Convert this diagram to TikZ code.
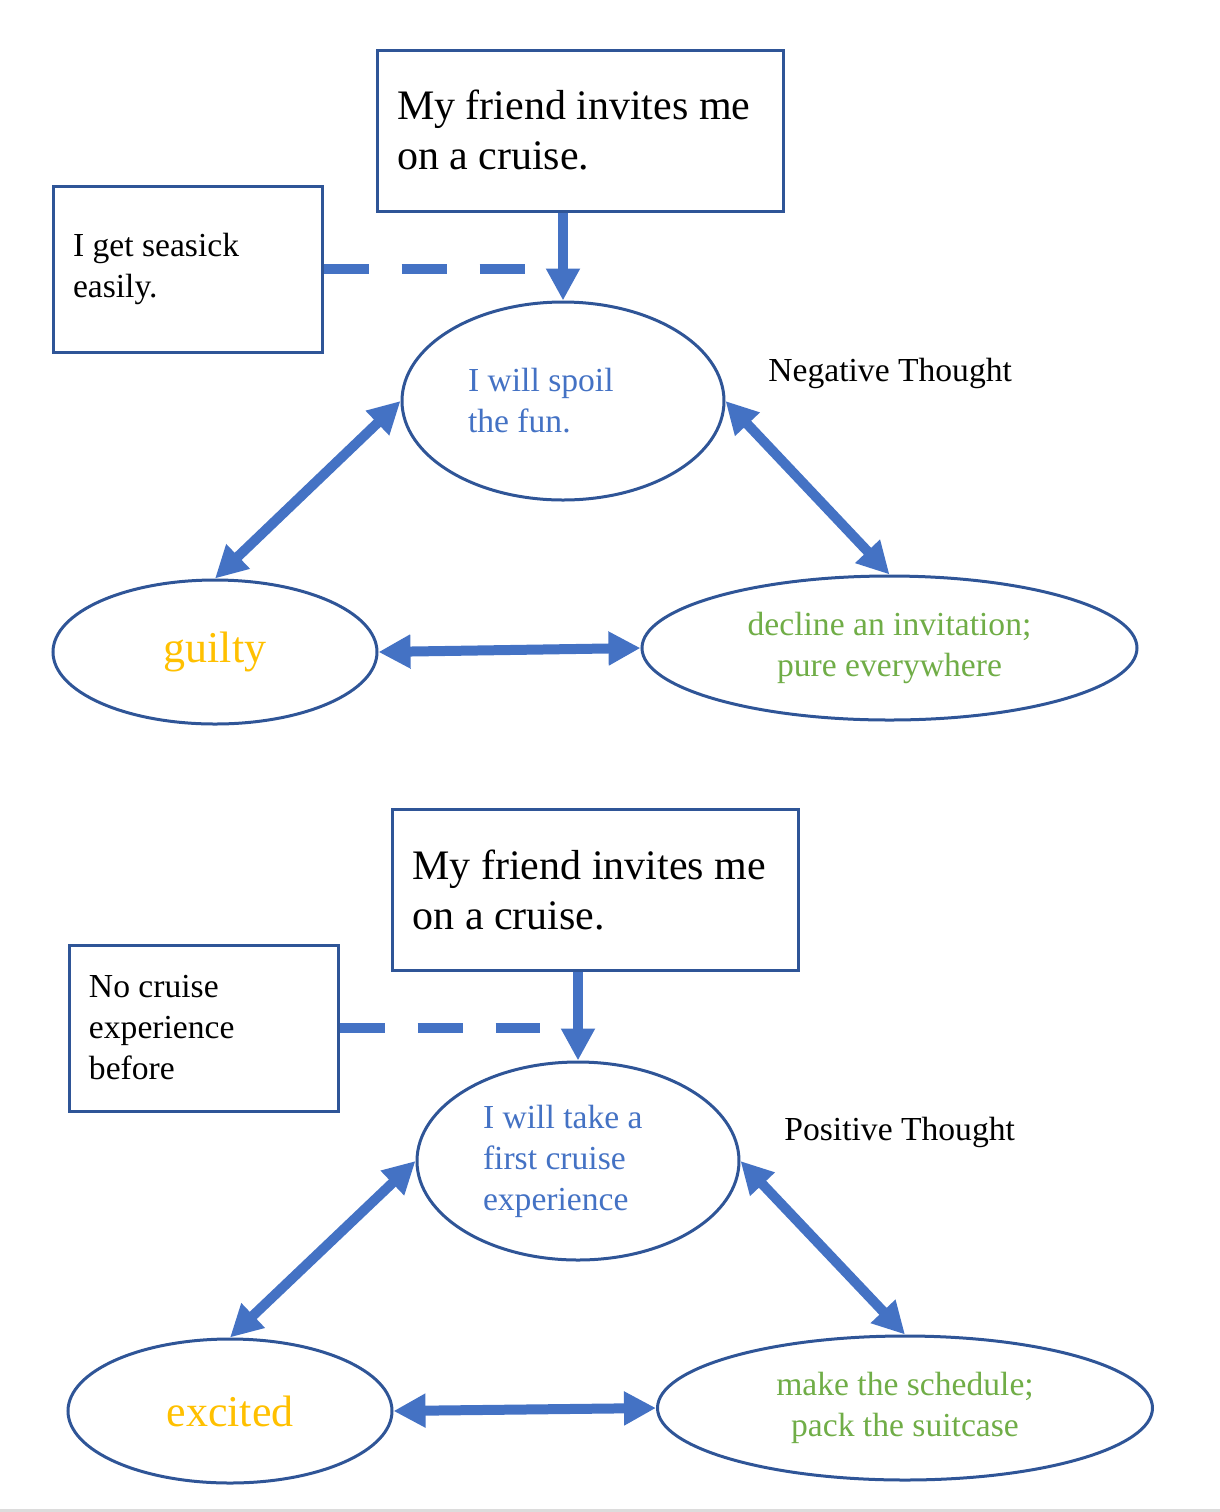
\documentclass[tikz,border=0pt]{standalone}
\usepackage{fontspec}
\setmainfont{Liberation Serif}
\usepackage{tikz}
\usetikzlibrary{positioning,arrows.meta,shapes.geometric}
\definecolor{boxblue}{RGB}{47,85,151}
\definecolor{arrowblue}{RGB}{68,114,196}
\definecolor{thoughtgreen}{RGB}{112,173,71}
\definecolor{feelgold}{RGB}{255,192,0}
\definecolor{stripgray}{RGB}{220,220,220}

\begin{document}
\begin{tikzpicture}[
  x=0.5pt, y=-0.5pt,
  eventbox/.style={rectangle, draw=boxblue, line width=1.5pt, minimum width=203pt, minimum height=80.5pt, text width=183pt, inner xsep=10pt, align=flush left, font=\fontsize{21}{25}\selectfont},
  factbox/.style={rectangle, draw=boxblue, line width=1.5pt, minimum width=134.5pt, minimum height=83pt, text width=114.5pt, inner xsep=10pt, align=flush left, font=\fontsize{16.8}{20.5}\selectfont},
  thought/.style={ellipse, draw=boxblue, line width=1.5pt, minimum width=161pt, minimum height=99pt, inner sep=0pt, text width=95pt, align=flush left, text=arrowblue, font=\fontsize{16.8}{20.5}\selectfont},
  feeling/.style={ellipse, draw=boxblue, line width=1.5pt, minimum width=162pt, minimum height=72pt, inner sep=0pt, text=feelgold, font=\fontsize{22}{26}\selectfont},
  action/.style={ellipse, draw=boxblue, line width=1.5pt, minimum width=247.5pt, minimum height=72pt, inner sep=0pt, align=center, text=thoughtgreen, font=\fontsize{16.8}{20.5}\selectfont},
  tag/.style={anchor=west, inner sep=0pt, font=\fontsize{16.8}{20.5}\selectfont},
  arrow/.style={-{Triangle[length=16pt,width=16pt]}, line width=5pt, arrowblue},
  twoway/.style={{Triangle[length=16pt,width=16pt]}-{Triangle[length=16pt,width=16pt]}, line width=5pt, arrowblue},
  dashline/.style={line width=5pt, arrowblue, dash pattern=on 22.5pt off 16.5pt}
]
  \useasboundingbox (0,0) rectangle (1220,1512);
  \fill[stripgray] (0,1509) rectangle (1220,1512);

  % Negative thought
  \node[eventbox] (invite1) at (580,130.5) {My friend invites me\\on a cruise.};
  \node[factbox] (seasick) at (187.5,269) {I get seasick\\easily.};
  \coordinate (seasickend) at (525,269);
  \node[thought] (spoil) at (563,401) {I will spoil\\the fun.};
  \node[tag] (negtag) at (768,373) {Negative Thought};
  \node[feeling] (guilty) at (215,652) {guilty};
  \node[action] (decline) at (889.5,648) {decline an invitation;\\pure everywhere};

  \draw[arrow] (spoil.north |- invite1.south) -- (spoil.north);
  \draw[dashline] (seasick.east) -- (seasickend);
  \draw[twoway] (spoil.west) -- (guilty.north);
  \draw[twoway] (spoil.east) -- (decline.north);
  \draw[twoway] (guilty.east) -- (decline.west);

  % Positive thought
  \node[eventbox] (invite2) at (595.5,890) {My friend invites me\\on a cruise.};
  \node[factbox] (nocruise) at (203.5,1028) {No cruise\\experience\\before};
  \coordinate (nocruiseend) at (540,1028);
  \node[thought] (first) at (578,1161) {I will take a\\first cruise\\experience};
  \node[tag] (postag) at (784,1132) {Positive Thought};
  \node[feeling] (excited) at (230,1411) {excited};
  \node[action] (schedule) at (905,1408) {make the schedule;\\pack the suitcase};

  \draw[arrow] (first.north |- invite2.south) -- (first.north);
  \draw[dashline] (nocruise.east) -- (nocruiseend);
  \draw[twoway] (first.west) -- (excited.north);
  \draw[twoway] (first.east) -- (schedule.north);
  \draw[twoway] (excited.east) -- (schedule.west);

\end{tikzpicture}
\end{document}
